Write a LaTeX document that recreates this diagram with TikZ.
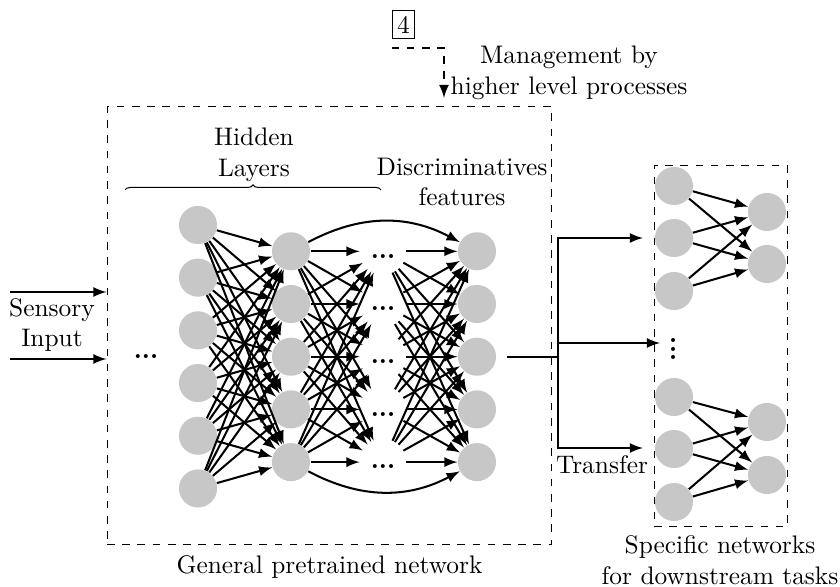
\documentclass[tikz,border=0pt]{standalone}
\usetikzlibrary{arrows.meta, positioning, decorations.pathreplacing}
\definecolor{neurongray}{gray}{0.78}
\tikzstyle{neuron}=[circle, fill=neurongray, minimum size=15pt, inner sep=0pt]
\tikzstyle{dots}=[circle, minimum size=18pt, inner sep=0pt, text height=1.5ex, text depth=.25ex]
\tikzstyle{frame}=[draw, dashed, inner sep=0pt]
\tikzstyle{link}=[->, thick]

\begin{document}
\begin{tikzpicture}[x=0.394pt, y=0.394pt, >=latex]
  \useasboundingbox (0,0) rectangle (840,586);
  % general network
  \foreach \i in {1,...,6}
    \node[neuron] (h\i) at (198, {229.3+52.7*(3.5-\i)}) {};
  \foreach \i in {1,...,5} {
    \node[neuron] (g\i) at (291, {229.3+52.7*(3-\i)}) {};
    \node[dots] (d\i) at (383, {229.3+52.7*(3-\i)}) {\textbf{...}};
    \node[neuron] (o\i) at (477, {229.3+52.7*(3-\i)}) {};
  }
  \foreach \i in {1,...,6}
    \foreach \j in {1,...,5}
      \draw[link] (h\i) -- (g\j);
  \foreach \i in {1,...,5}
    \foreach \j in {1,...,5} {
      \draw[link] (g\i) -- (d\j);
      \draw[link] (d\i) -- (o\j);
    }
  \draw[link] (g1) to[bend left=28] (o1);
  \draw[link] (g5) to[bend right=28] (o5);
  \node (ldots) at (146,229) {\textbf{...}};

  \node[frame, minimum width=175.3pt, minimum height=172.2pt] (gpn) at (329.5,260.5) {};
  \node[below=1pt of gpn] (gpnlabel) {General pretrained network};
  \draw[decorate, decoration={brace, amplitude=2pt}] (125,396) -- (381,396);
  \node[align=center] (hidden) at (254,431) {Hidden\\Layers};
  \node[align=center] (discr) at (462,404) {Discriminatives\\features};

  % input
  \coordinate (in1) at (10,294);
  \coordinate (in2) at (10,227);
  \draw[link] (in1) -- (in1 -| gpn.west);
  \draw[link] (in2) -- (in2 -| gpn.west);
  \node[align=center] (sensory) at (52,261) {Sensory\\Input};

  % management
  \node[draw, inner sep=2pt] (four) at (403.5,561.5) {4};
  \coordinate (mgmt) at (444,488);
  \draw[->, thick, dashed] ([yshift=-3.5pt]four.south west) -| (mgmt);
  \node[align=center] (manage) at (569,513) {Management by\\higher level processes};

  % transfer
  \coordinate (tr) at (507,229);
  \coordinate (br) at (558,229);
  \coordinate (t1) at (643,348);
  \coordinate (t2) at (660,243);
  \coordinate (t3) at (643,138);
  \draw[thick] (tr) -- (br);
  \draw[link] (br) |- (t1);
  \draw[link] (br) |- (t3);
  \draw[link] (br |- t2) -- (t2);
  \node (transfer) at (602,121) {Transfer};

  % specific networks
  \foreach \i/\y in {1/400, 2/348, 3/295}
    \node[neuron] (a\i) at (674,\y) {};
  \foreach \i/\y in {1/374, 2/322}
    \node[neuron] (b\i) at (767,\y) {};
  \foreach \i/\y in {1/189, 2/137, 3/84}
    \node[neuron] (c\i) at (674,\y) {};
  \foreach \i/\y in {1/164, 2/111}
    \node[neuron] (e\i) at (767,\y) {};
  \foreach \i in {1,2,3}
    \foreach \j in {1,2} {
      \draw[link] (a\i) -- (b\j);
      \draw[link] (c\i) -- (e\j);
    }
  \node[rotate=90, inner sep=1pt] (vdots) at (674,237) {\textbf{...}};
  \node[frame, minimum width=52.4pt, minimum height=142.6pt] (spec) at (720.5,240) {};
  \node[align=center] (speclabel) at (720,26) {Specific networks\\for downstream tasks};
\end{tikzpicture}
\end{document}
